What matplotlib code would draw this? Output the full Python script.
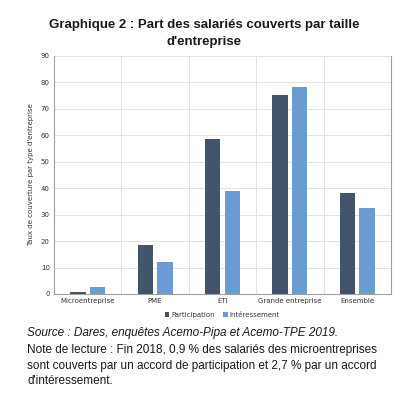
import matplotlib
matplotlib.use("Agg")
import matplotlib.pyplot as plt
import numpy as np

categories = ["Microentreprise", "PME", "ETI", "Grande entreprise", "Ensemble"]
participation = [0.9, 18.5, 58.5, 75.3, 38.3]
interessement = [2.7, 12.0, 39.1, 78.4, 32.6]
yticks = [0, 10, 20, 30, 40, 50, 60, 70, 80, 90]

fig = plt.figure(figsize=(4.08, 3.94), dpi=100)
fig.patch.set_facecolor("white")
ax = fig.add_axes([54/408, 1-294/394, 337/408, 238/394])

x = np.arange(len(categories))
w = 0.23
off = 0.145
ax.bar(x - off, participation, width=w, color="#44546A", label="Participation", zorder=3)
ax.bar(x + off, interessement, width=w, color="#6A9BD1", label="Intéressement", zorder=3)

ax.set_xlim(-0.5, len(categories) - 0.5)
ax.set_ylim(0, 90)
ax.set_yticks(yticks)
ax.set_yticklabels([str(v) for v in yticks], fontsize=5, color="#333333")
ax.set_xticks(x)
ax.set_xticklabels(categories, fontsize=5, color="#333333")
ax.set_xticks(np.arange(len(categories) + 1) - 0.5, minor=True)
ax.tick_params(axis="both", which="both", length=0, pad=3)
ax.grid(axis="y", color="#E3E3E3", linewidth=0.7, zorder=0)
ax.grid(axis="x", which="minor", color="#E3E3E3", linewidth=0.7, zorder=0)
ax.grid(axis="x", which="major", visible=False)
for s in ["left", "bottom", "right"]:
    ax.spines[s].set_color("#A0A0A0")
    ax.spines[s].set_linewidth(0.8)
ax.spines["top"].set_visible(False)
ax.set_ylabel("Taux de couverture par type d'entreprise", fontsize=5, color="#333333", labelpad=5)

leg = ax.legend(loc="upper center", bbox_to_anchor=(0.5, -0.05), ncol=2, fontsize=5,
                frameon=False, handlelength=0.6, handleheight=0.6, columnspacing=1.2,
                handletextpad=0.3)
for t in leg.get_texts():
    t.set_color("#333333")

fig.text(0.5, 1-25/394, "Graphique 2 : Part des salariés couverts par taille",
         ha="center", va="center", fontsize=9.5, fontweight="bold",
         family="Liberation Sans", color="#1a1a1a")
fig.text(0.5, 1-42/394, "d'entreprise",
         ha="center", va="center", fontsize=9.5, fontweight="bold",
         family="Liberation Sans", color="#1a1a1a")

fs = 8.5
fig.text(27/408, 1-333/394, "Source : Dares, enquêtes Acemo-Pipa et Acemo-TPE 2019.",
         ha="left", va="center", fontsize=fs, style="italic", family="Liberation Sans", color="#1a1a1a")
fig.text(27/408, 1-350/394, "Note de lecture : Fin 2018, 0,9 % des salariés des microentreprises",
         ha="left", va="center", fontsize=fs, family="Liberation Sans", color="#1a1a1a")
fig.text(27/408, 1-366/394, "sont couverts par un accord de participation et 2,7 % par un accord",
         ha="left", va="center", fontsize=fs, family="Liberation Sans", color="#1a1a1a")
fig.text(27/408, 1-381/394, "d'intéressement.",
         ha="left", va="center", fontsize=fs, family="Liberation Sans", color="#1a1a1a")

fig.savefig("out.png", dpi=100, facecolor="white")
